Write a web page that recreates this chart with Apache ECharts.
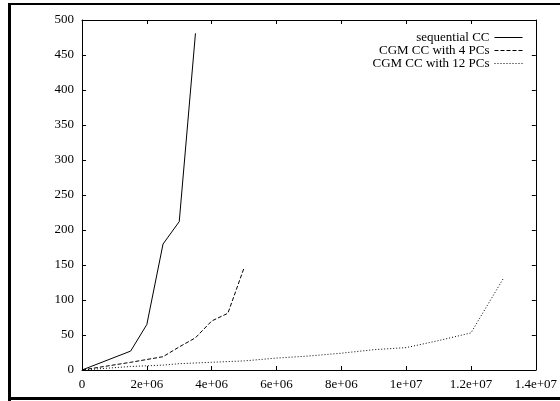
<!DOCTYPE html>
<html>
<head>
<meta charset="utf-8">
<script src="https://cdn.jsdelivr.net/npm/echarts@6/dist/echarts.min.js"></script>
<style>html,body{margin:0;padding:0;background:#fff;}#c{width:560px;height:401px;}</style>
</head>
<body>
<div id="c"></div>
<script>
var seqX = [0, 1.5e6, 2e6, 2.5e6, 3e6, 3.5e6];
var seqY = [0, 27, 65, 180, 212, 481];
var pc4X = [0, 1.5e6, 2e6, 2.5e6, 3e6, 3.5e6, 4e6, 4.5e6, 5e6];
var pc4Y = [0, 11, 15, 19, 33, 46, 70, 81, 146];
var pc12X = [0, 1.5e6, 2e6, 2.5e6, 3e6, 3.5e6, 4e6, 4.5e6, 5e6, 6e6, 7e6, 8e6, 9e6, 1e7, 1.1e7, 1.2e7, 1.3e7];
var pc12Y = [0, 5, 6, 7, 9, 10, 11, 12, 13, 17, 20, 24, 29, 32, 42, 53, 131];
var seriesNames = ['sequential CC', 'CGM CC with 4 PCs', 'CGM CC with 12 PCs'];
var xTickLabels = ['0', '2e+06', '4e+06', '6e+06', '8e+06', '1e+07', '1.2e+07', '1.4e+07'];
var yTickLabels = ['0', '50', '100', '150', '200', '250', '300', '350', '400', '450', '500'];

function pairs(xs, ys) { return xs.map(function (x, i) { return [x, ys[i]]; }); }

var font = 'Liberation Serif';
var chart = echarts.init(document.getElementById('c'), null, {renderer: 'canvas'});
var axisCommon = {
  axisLine: {show: true, onZero: false, lineStyle: {color: '#000', width: 1}},
  axisTick: {show: true, inside: true, length: 4, lineStyle: {color: '#000'}},
  splitLine: {show: false}
};
function legendFor(name, top) {
  return {
    data: [name], right: 37, top: top, orient: 'vertical', align: 'right',
    itemWidth: 28, itemHeight: 13, itemGap: 0, padding: 0,
    itemStyle: {opacity: 0},
    lineStyle: {width: 1, color: '#000'},
    textStyle: {fontFamily: font, fontSize: 13, color: '#000', padding: [0, 0, 0, 0]},
    selectedMode: false
  };
}
var lineStyles = [
  {color: '#000', width: 1, type: 'solid'},
  {color: '#000', width: 1, type: [4, 2]},
  {color: '#000', width: 1, type: [1, 2]}
];
var datas = [pairs(seqX, seqY), pairs(pc4X, pc4Y), pairs(pc12X, pc12Y)];

chart.setOption({
  animation: false,
  backgroundColor: '#fff',
  grid: {left: 82, right: 23, top: 20, bottom: 31, containLabel: false},
  legend: [legendFor(seriesNames[0], 31), legendFor(seriesNames[1], 44), legendFor(seriesNames[2], 57)],
  xAxis: [
    Object.assign({}, axisCommon, {
      type: 'value', min: 0, max: 1.4e7, interval: 2e6, position: 'bottom',
      axisLabel: {color: '#000', fontFamily: font, fontSize: 13, margin: 8,
        formatter: function (v) { return xTickLabels[Math.round(v / 2e6)]; }}
    }),
    Object.assign({}, axisCommon, {
      type: 'value', min: 0, max: 1.4e7, interval: 2e6, position: 'top',
      axisLabel: {show: false}
    })
  ],
  yAxis: [
    Object.assign({}, axisCommon, {
      type: 'value', min: 0, max: 500, interval: 50, position: 'left',
      axisLabel: {color: '#000', fontFamily: font, fontSize: 13, margin: 8,
        formatter: function (v) { return yTickLabels[Math.round(v / 50)]; }}
    }),
    Object.assign({}, axisCommon, {
      type: 'value', min: 0, max: 500, interval: 50, position: 'right',
      axisLabel: {show: false}
    })
  ],
  series: seriesNames.map(function (n, i) {
    return {
      name: n, type: 'line', data: datas[i], showSymbol: false, symbol: 'none',
      lineStyle: lineStyles[i], itemStyle: {color: '#000'}, silent: true
    };
  }),
  graphic: [
    {type: 'line', shape: {x1: 9.5, y1: 3, x2: 9.5, y2: 401}, style: {stroke: '#000', lineWidth: 3}},
    {type: 'line', shape: {x1: 8, y1: 4, x2: 560, y2: 4}, style: {stroke: '#000', lineWidth: 2}},
    {type: 'line', shape: {x1: 8, y1: 398.5, x2: 560, y2: 398.5}, style: {stroke: '#000', lineWidth: 3}}
  ]
});
</script>
</body>
</html>
